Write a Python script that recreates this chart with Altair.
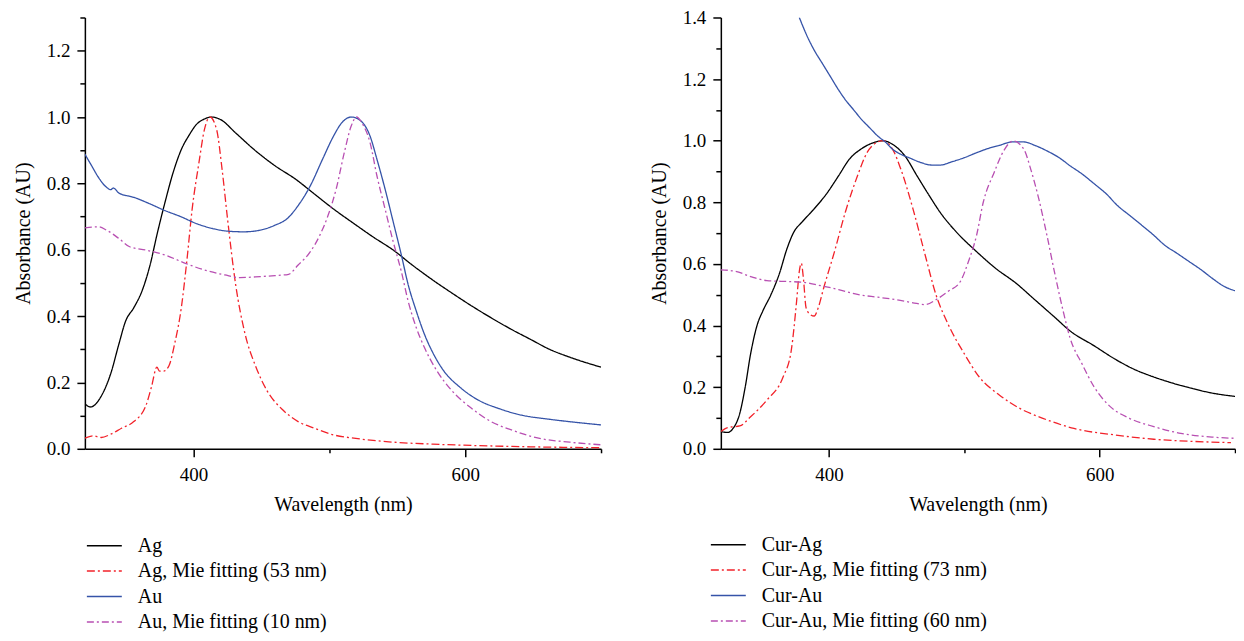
import altair as alt
import pandas as pd

# ---------------- Left panel data ----------------
ag_wl = [320, 324, 333, 339, 345, 350, 356, 362, 368, 373, 379, 385, 391, 397, 402, 408, 413,
         420, 431, 446, 460, 475, 489, 503, 518, 532, 547, 561, 576, 590, 605, 619, 634, 648,
         662, 677, 700]
ag_abs = [0.136, 0.126, 0.166, 0.226, 0.315, 0.385, 0.425, 0.475, 0.554, 0.644, 0.743, 0.833,
          0.902, 0.947, 0.977, 0.994, 1.0, 0.992, 0.952, 0.897, 0.853, 0.813, 0.768, 0.723,
          0.679, 0.639, 0.599, 0.554, 0.509, 0.470, 0.430, 0.395, 0.360, 0.330, 0.300, 0.276,
          0.246]

agmie_wl = [320, 326, 332, 339, 347, 356, 365, 369, 373, 375, 378, 382, 386, 391, 395, 399,
            404, 408, 412, 417, 421, 425, 431, 438, 446, 454, 466, 477, 489, 503, 518, 547,
            576, 605, 648, 700]
agmie_abs = [0.032, 0.039, 0.034, 0.044, 0.062, 0.082, 0.131, 0.186, 0.246, 0.234, 0.234,
             0.251, 0.315, 0.425, 0.564, 0.723, 0.863, 0.962, 1.0, 0.962, 0.843, 0.694, 0.495,
             0.345, 0.246, 0.176, 0.116, 0.082, 0.062, 0.042, 0.032, 0.020, 0.014, 0.010,
             0.006, 0.003]

au_wl = [320, 325, 330, 336, 339, 341, 345, 356, 368, 379, 391, 402, 414, 425, 437, 449, 460,
         469, 477, 486, 495, 503, 509, 516, 522, 530, 535, 541, 547, 553, 558, 564, 570, 576,
         584, 596, 610, 625, 642, 662, 683, 700]
au_abs = [0.888, 0.853, 0.818, 0.788, 0.781, 0.786, 0.771, 0.758, 0.738, 0.718, 0.699, 0.679,
          0.664, 0.656, 0.654, 0.659, 0.674, 0.694, 0.733, 0.793, 0.873, 0.942, 0.982, 1.0,
          0.992, 0.942, 0.873, 0.783, 0.684, 0.584, 0.495, 0.415, 0.345, 0.291, 0.236, 0.186,
          0.146, 0.121, 0.101, 0.089, 0.079, 0.072]

aumie_wl = [320, 330, 336, 345, 353, 365, 379, 394, 408, 423, 434, 449, 460, 470, 477, 486,
            493, 499, 505, 511, 516, 520, 524, 530, 535, 541, 547, 553, 558, 564, 570, 579,
            590, 605, 619, 634, 654, 677, 700]
aumie_abs = [0.666, 0.669, 0.659, 0.634, 0.609, 0.599, 0.584, 0.559, 0.539, 0.524, 0.516,
             0.519, 0.522, 0.526, 0.554, 0.594, 0.644, 0.703, 0.783, 0.893, 0.972, 1.0, 0.982,
             0.922, 0.823, 0.723, 0.624, 0.534, 0.445, 0.365, 0.305, 0.236, 0.176, 0.121,
             0.082, 0.057, 0.032, 0.020, 0.012]

# ---------------- Right panel data ----------------
curag_wl = [320, 325, 329, 334, 338, 342, 347, 351, 357, 363, 369, 374, 380, 389, 398, 407,
            415, 424, 433, 440, 447, 456, 465, 474, 482, 494, 509, 523, 538, 552, 567, 578,
            596, 611, 625, 640, 654, 669, 683, 700]
curag_abs = [0.056, 0.053, 0.066, 0.115, 0.200, 0.308, 0.404, 0.447, 0.500, 0.565, 0.651,
             0.704, 0.736, 0.779, 0.827, 0.886, 0.940, 0.974, 0.994, 1.0, 0.988, 0.951, 0.886,
             0.822, 0.768, 0.704, 0.640, 0.586, 0.538, 0.484, 0.426, 0.383, 0.334, 0.292,
             0.259, 0.233, 0.213, 0.195, 0.181, 0.170]

curagmie_wl = [320, 325, 334, 342, 354, 366, 372, 376, 378, 379.5, 381, 383, 386, 389, 392,
               396, 404, 412, 421, 428, 436, 440, 447, 453, 462, 471, 479, 488, 500, 511, 526,
               541, 558, 581, 611, 640, 669, 697]
curagmie_abs = [0.056, 0.069, 0.074, 0.104, 0.158, 0.233, 0.318, 0.479, 0.576, 0.602, 0.554,
                0.458, 0.436, 0.431, 0.458, 0.522, 0.640, 0.768, 0.886, 0.961, 0.996, 1.0,
                0.972, 0.908, 0.779, 0.629, 0.500, 0.404, 0.308, 0.233, 0.174, 0.131, 0.099,
                0.066, 0.045, 0.031, 0.024, 0.020]

curau_wl = [378, 383, 389, 395, 401, 407, 412, 418, 424, 430, 436, 442, 447, 453, 459, 468,
            476, 482, 491, 500, 509, 517, 526, 535, 544, 552, 561, 570, 578, 587, 596, 605,
            613, 622, 631, 640, 648, 657, 666, 675, 683, 692, 700]
curau_abs = [1.400, 1.347, 1.294, 1.251, 1.208, 1.165, 1.133, 1.101, 1.069, 1.042, 1.015,
             0.994, 0.972, 0.956, 0.945, 0.929, 0.921, 0.921, 0.932, 0.945, 0.961, 0.974,
             0.985, 0.996, 0.996, 0.985, 0.967, 0.945, 0.919, 0.892, 0.860, 0.827, 0.790,
             0.758, 0.726, 0.693, 0.661, 0.635, 0.608, 0.581, 0.554, 0.527, 0.513]

curaumie_wl = [320, 331, 342, 354, 369, 380, 392, 407, 421, 436, 450, 462, 471, 479, 488, 497,
               503, 509, 514, 522, 529, 536, 544, 549, 555, 561, 567, 573, 578, 587, 596, 608,
               622, 640, 660, 683, 700]
curaumie_abs = [0.581, 0.576, 0.559, 0.546, 0.543, 0.541, 0.531, 0.517, 0.501, 0.492, 0.484,
                0.474, 0.468, 0.484, 0.511, 0.543, 0.608, 0.693, 0.801, 0.897, 0.967, 0.999,
                0.972, 0.908, 0.811, 0.693, 0.565, 0.447, 0.361, 0.275, 0.200, 0.136, 0.099,
                0.072, 0.050, 0.038, 0.034]

left_names = ["Ag", "Ag, Mie fitting (53 nm)", "Au", "Au, Mie fitting (10 nm)"]
right_names = ["Cur-Ag", "Cur-Ag, Mie fitting (73  nm)", "Cur-Au", "Cur-Au, Mie fitting (60 nm)"]

colors = ["#000000", "#f2222a", "#3553a8", "#b84fb2"]
dashes = [[1, 0], [8, 3, 2, 3], [1, 0], [7, 3, 2, 3]]

x_major = [400, 600]
x_minor = [500, 700]

FONT = "Liberation Serif"

AX = dict(labelFont=FONT, titleFont=FONT, labelFontSize=19, titleFontSize=20,
          titleFontWeight="normal", labelColor="black", titleColor="black",
          domainColor="black", tickColor="black", domainWidth=1.5, tickWidth=1.5,
          grid=False)


def make_df(names, wls, vals):
    rows = []
    for n, w, v in zip(names, wls, vals):
        for a, b in zip(w, v):
            rows.append({"series": n, "wl": a, "ab": b})
    return pd.DataFrame(rows)


left_df = make_df(left_names, [ag_wl, agmie_wl, au_wl, aumie_wl],
                  [ag_abs, agmie_abs, au_abs, aumie_abs])
right_df = make_df(right_names, [curag_wl, curagmie_wl, curau_wl, curaumie_wl],
                   [curag_abs, curagmie_abs, curau_abs, curaumie_abs])


def panel(df, names, ymax, width, lx, ly):
    n = int(round(ymax * 10))
    y_major = [round(i * 0.1, 1) for i in range(0, n + 1, 2)]
    y_minor = [round(i * 0.1, 1) for i in range(1, n + 1, 2)]
    xs = alt.Scale(domain=[320, 700], nice=False, zero=False)
    ys = alt.Scale(domain=[0, ymax], nice=False, zero=True)
    leg = alt.Legend(
        title=None, orient="none", legendX=lx, legendY=ly,
        symbolType="stroke", symbolSize=1225, symbolStrokeWidth=1.5,
        labelFont=FONT, labelFontSize=20, labelColor="black", labelOffset=15,
        labelLimit=500, clipHeight=20, rowPadding=5.5,
    )
    lines = alt.Chart(df).mark_line(strokeWidth=1.3, clip=True, interpolate="monotone").encode(
        x=alt.X("wl:Q", scale=xs,
                axis=alt.Axis(title="Wavelength (nm)", values=x_major, format="d",
                              tickSize=8, labelPadding=9, titlePadding=10, orient="bottom", **AX)),
        y=alt.Y("ab:Q", scale=ys,
                axis=alt.Axis(title="Absorbance (AU)", values=y_major, format=".1f",
                              tickSize=8, labelPadding=7, titlePadding=13, orient="left", **AX)),
        color=alt.Color("series:N", scale=alt.Scale(domain=names, range=colors), legend=leg),
        strokeDash=alt.StrokeDash("series:N", scale=alt.Scale(domain=names, range=dashes),
                                  legend=leg),
        detail="series:N",
        order="wl:Q",
    )
    minor = alt.Chart(df).mark_point(opacity=0, size=1).encode(
        x=alt.X("wl:Q", scale=xs,
                axis=alt.Axis(title=None, values=x_minor, labels=False, domain=False,
                              tickSize=4, orient="bottom", tickColor="black", tickWidth=1.5,
                              grid=False)),
        y=alt.Y("ab:Q", scale=ys,
                axis=alt.Axis(title=None, values=y_minor, labels=False, domain=False,
                              tickSize=5, orient="left", tickColor="black", tickWidth=1.5,
                              grid=False)),
    )
    return alt.layer(lines, minor).resolve_axis(x="independent", y="independent").properties(
        width=width, height=432)


left = panel(left_df, left_names, 1.3, 517, 1, 519)
right = panel(right_df, right_names, 1.4, 515, -11, 518)

chart = alt.hconcat(left, right, spacing=47).resolve_scale(
    color="independent", strokeDash="independent"
).properties(
    padding={"left": 5, "top": 0, "right": 0, "bottom": 0}
).configure(
    font=FONT
).configure_axis(
    labelFont=FONT, titleFont=FONT, domainColor="black", tickColor="black"
).configure_legend(
    labelFont=FONT
).configure_view(strokeWidth=0)

chart.save("out.html", embed_options={"renderer": "svg", "actions": False})
